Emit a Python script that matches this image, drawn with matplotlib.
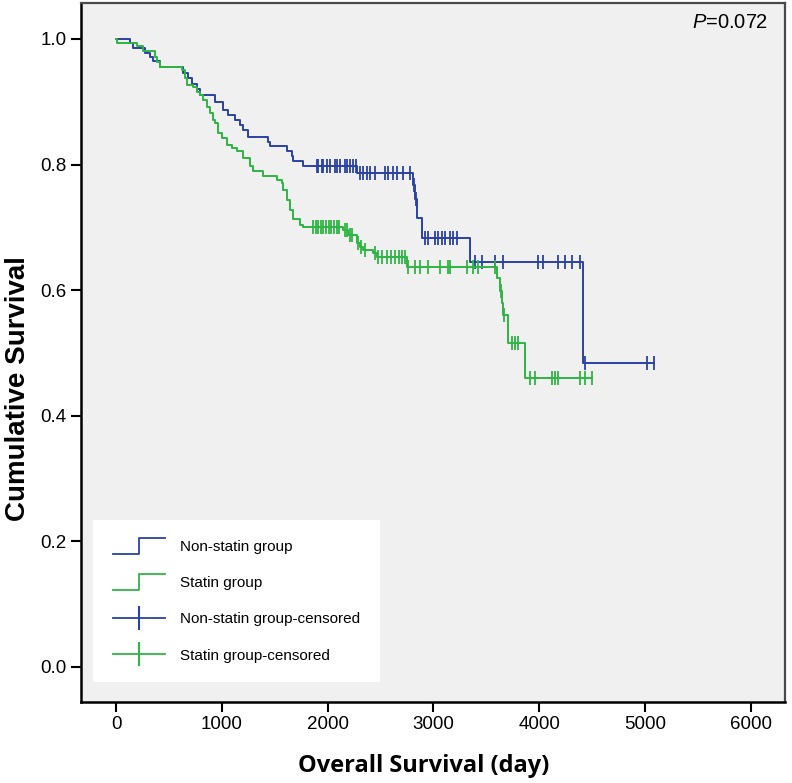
import matplotlib.pyplot as plt
import numpy as np
from matplotlib.lines import Line2D

plt.rcParams['font.family'] = ['Liberation Sans', 'DejaVu Sans']
plt.rcParams['mathtext.fontset'] = 'custom'
plt.rcParams['mathtext.it'] = 'Liberation Sans:italic'
plt.rcParams['mathtext.rm'] = 'Liberation Sans'

# Non-statin group: event times (day) and survival after each step
nonstatin_t = [0, 132, 164, 274, 321, 353, 416, 636, 684, 715, 762, 794, 936, 1015,
               1062, 1125, 1172, 1204, 1251, 1440, 1456, 1613, 1660, 1676, 1770, 2275,
               2810, 2826, 2842, 2889, 3346, 4416]
nonstatin_s = [1.0, 0.994, 0.985, 0.977, 0.971, 0.965, 0.956, 0.945, 0.937, 0.929, 0.921,
               0.911, 0.900, 0.887, 0.879, 0.871, 0.863, 0.855, 0.844, 0.836, 0.829, 0.821,
               0.813, 0.805, 0.798, 0.787, 0.768, 0.745, 0.715, 0.683, 0.645, 0.484]
nonstatin_cens = [1897, 1912, 1944, 1960, 1991, 2023, 2070, 2092, 2117, 2164, 2186, 2212,
                  2243, 2268, 2306, 2337, 2369, 2401, 2448, 2543, 2574, 2621, 2653, 2716,
                  2779, 2818, 2834, 2921, 2952, 3015, 3046, 3078, 3110, 3157, 3188, 3220,
                  3393, 3456, 3582, 3658, 3989, 4036, 4178, 4244, 4310, 4386, 4433, 5016,
                  5090]

# Statin group
statin_t = [0, 10, 195, 258, 369, 384, 416, 621, 652, 668, 731, 762, 794, 825, 857, 888,
            920, 936, 967, 999, 1046, 1093, 1140, 1204, 1267, 1298, 1393, 1519, 1566, 1582,
            1613, 1645, 1676, 1739, 1770, 2149, 2196, 2275, 2306, 2337, 2432, 2464, 2750,
            3598, 3625, 3650, 3658, 3709, 3866]
statin_s = [1.0, 0.994, 0.988, 0.980, 0.972, 0.964, 0.956, 0.951, 0.937, 0.927, 0.924,
            0.916, 0.911, 0.903, 0.892, 0.882, 0.871, 0.866, 0.850, 0.842, 0.831, 0.826,
            0.821, 0.810, 0.797, 0.789, 0.781, 0.775, 0.770, 0.760, 0.744, 0.728, 0.714,
            0.704, 0.700, 0.696, 0.688, 0.675, 0.669, 0.664, 0.659, 0.653, 0.637, 0.620,
            0.598, 0.580, 0.560, 0.515, 0.460]
statin_cens = [1865, 1890, 1912, 1935, 1960, 1985, 2010, 2035, 2060, 2085, 2110,
               2160, 2180, 2210, 2230, 2290, 2320, 2350,
               2445, 2480, 2510, 2560, 2600, 2640, 2670, 2700, 2730, 2760, 2826, 2873,
               2949, 3062, 3138, 3157, 3315, 3374, 3421, 3582, 3635, 3665, 3740, 3772,
               3803, 3913, 3960, 4118, 4150, 4181, 4386, 4433, 4500]

groups = ['Non-statin group', 'Statin group']
blue = '#2a42a4'
green = '#2fb543'

fig = plt.figure(figsize=(7.92, 7.83), dpi=100)
ax = fig.add_axes([0.102, 0.1034, 0.889, 0.8926])
ax.set_facecolor('#f0f0f0')


def surv_at(times, surv, c):
    i = np.searchsorted(times, c, side='right') - 1
    return np.array(surv)[i]


for t, s, cens, col in [(nonstatin_t, nonstatin_s, nonstatin_cens, blue),
                        (statin_t, statin_s, statin_cens, green)]:
    tt = list(t) + [max(cens)]
    ss = list(s) + [s[-1]]
    ax.step(tt, ss, where='post', color=col, lw=1.4)
    ax.plot(cens, surv_at(t, s, cens), ls='none', marker='|', ms=10, mew=1.3, color=col)

ax.set_xlim(-334, 6323)
ax.set_ylim(-0.056, 1.057)
ax.set_xticks([0, 1000, 2000, 3000, 4000, 5000, 6000])
ax.set_yticks([0.0, 0.2, 0.4, 0.6, 0.8, 1.0])
ax.set_yticklabels(['0.0', '0.2', '0.4', '0.6', '0.8', '1.0'])
ax.tick_params(direction='out', length=7.2, width=1.5, labelsize=13.5, pad=3)

for side in ['left', 'bottom']:
    ax.spines[side].set_linewidth(1.8)
    ax.spines[side].set_color('black')
for side in ['top', 'right']:
    ax.spines[side].set_linewidth(1.6)
    ax.spines[side].set_color('#4a4a4a')

ax.set_xlabel('Overall Survival (day)', family='Open Sans', fontweight='bold', fontsize=17)
ax.xaxis.set_label_coords(0.487, -0.074)
ax.set_ylabel('Cumulative Survival', fontweight='bold', fontsize=20)
ax.yaxis.set_label_coords(-0.071, 0.448)

ax.text(0.976, 0.973, '$P$=0.072', transform=ax.transAxes, ha='right', va='center',
        fontsize=14.5)


class StepHandler:
    def legend_artist(self, legend, orig_handle, fontsize, handlebox):
        x0, y0 = handlebox.xdescent, handlebox.ydescent
        w, h = handlebox.width, handlebox.height
        ln = Line2D([x0, x0 + w / 2, x0 + w / 2, x0 + w],
                    [y0 - 2, y0 - 2, y0 + h + 2, y0 + h + 2],
                    color=orig_handle.get_color(), lw=1.3,
                    transform=handlebox.get_transform())
        handlebox.add_artist(ln)
        return ln


h1 = Line2D([], [], color=blue)
h2 = Line2D([], [], color=green)
h3 = Line2D([], [], color=blue, lw=1.3, marker='|', ms=17, mew=1.5)
h4 = Line2D([], [], color=green, lw=1.3, marker='|', ms=17, mew=1.5)
leg = ax.legend([h1, h2, h3, h4],
                [groups[0], groups[1], groups[0] + '-censored', groups[1] + '-censored'],
                handler_map={h1: StepHandler(), h2: StepHandler()},
                loc='lower left', bbox_to_anchor=(0.017, 0.028), borderaxespad=0,
                fontsize=11, handlelength=3.4, handletextpad=1.0, labelspacing=1.45,
                borderpad=1.3, fancybox=False, framealpha=1, facecolor='white',
                edgecolor='none', numpoints=1)

fig.savefig('out.png', dpi=100)
